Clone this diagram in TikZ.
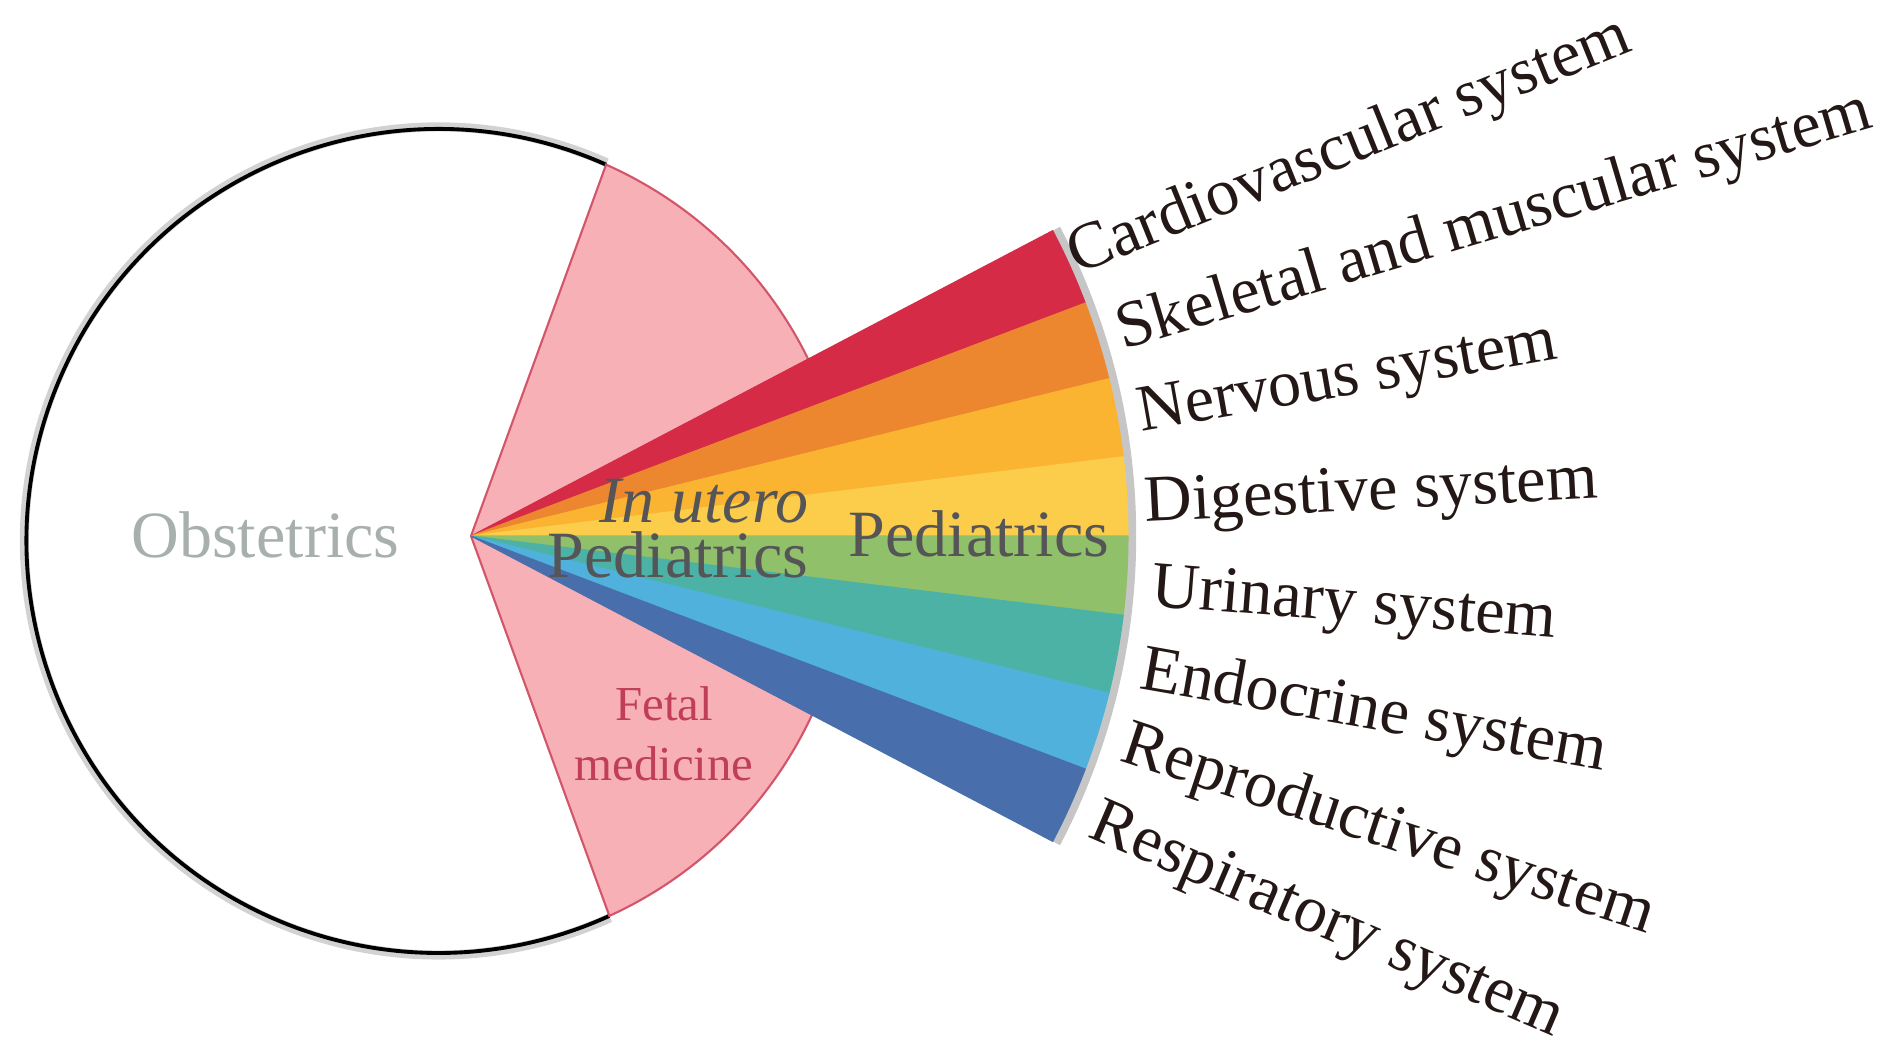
\documentclass[tikz,border=0pt]{standalone}
\usepackage{fontspec}
\setmainfont{Liberation Serif}
\definecolor{cvred}{RGB}{214,43,70}
\definecolor{skorange}{RGB}{236,135,48}
\definecolor{nvamber}{RGB}{250,180,50}
\definecolor{dgyellow}{RGB}{252,205,75}
\definecolor{urgreen}{RGB}{144,192,105}
\definecolor{enteal}{RGB}{75,178,165}
\definecolor{rpcyan}{RGB}{80,178,220}
\definecolor{rsblue}{RGB}{72,110,172}
\definecolor{fetalpink}{RGB}{247,176,182}
\definecolor{fetaledge}{RGB}{210,85,105}
\definecolor{fetalink}{RGB}{192,62,88}
\definecolor{obsgray}{RGB}{168,176,174}
\definecolor{pedgray}{RGB}{85,85,88}
\definecolor{labelink}{RGB}{35,24,21}
\tikzset{
  syslabel/.style={anchor=base west, inner sep=0pt, text=labelink, font=\fontsize{18.8}{22}\selectfont},
  bigtext/.style={anchor=base, inner sep=0pt, font=\fontsize{18.8}{22}\selectfont},
  fetaltext/.style={anchor=base, inner sep=0pt, text=fetalink, font=\fontsize{13.9}{16}\selectfont},
  rim/.style={draw=black, line width=1.1pt},
  fetal/.style={fill=fetalpink, draw=fetaledge, line width=0.6pt}
}
\begin{document}
\begin{tikzpicture}
  \useasboundingbox (0,0) rectangle (18.9,10.58);
  \coordinate (O) at (4.385,5.17);
  \coordinate (apex) at (4.71,5.22);

  % obstetrics circle and fetal medicine wedge
  \draw[gray!35, line width=2.6pt] ([shift={(66:4.14)}]O) arc[start angle=66, end angle=294.5, radius=4.14];
  \draw[rim] ([shift={(66:4.12)}]O) arc[start angle=66, end angle=294.5, radius=4.12];
  \draw[fetal] (apex) -- ([shift={(66:4.12)}]O) arc[start angle=66, end angle=-65.5, radius=4.12] -- cycle;

  % pediatrics fan
  \draw[gray!45, line width=3pt] ([shift={(27.7:6.6)}]apex) arc[start angle=27.7, end angle=-27.7, radius=6.6];
  \foreach \c [count=\i] in {cvred,skorange,nvamber,dgyellow,urgreen,enteal,rpcyan,rsblue}
    \filldraw[fill=\c, draw=\c, line width=0.3pt] (apex) -- ++({27.7-(\i-1)*6.925}:6.57)
      arc[start angle={27.7-(\i-1)*6.925}, delta angle=-6.925, radius=6.57] -- cycle;

  \node[bigtext, text=obsgray] (obs) at (2.655,5.01) {Obstetrics};
  \node[bigtext, text=pedgray] (utero) at (7.04,5.36) {\itshape In utero};
  \node[bigtext, text=pedgray] (pedin) at (6.78,4.81) {Pediatrics};
  \node[bigtext, text=pedgray] (pedout) at (9.79,5.02) {Pediatrics};
  \node[fetaltext] (fetal) at (6.64,3.38) {Fetal};
  \node[fetaltext] (medicine) at (6.64,2.78) {medicine};

  % organ systems
  \node[syslabel, rotate=22] (cardio) at (10.77,7.83) {Cardiovascular system};
  \node[syslabel, rotate=16.5] (skeletal) at (11.23,7.08) {Skeletal and muscular system};
  \node[syslabel, rotate=10] (nervous) at (11.41,6.26) {Nervous system};
  \node[syslabel, rotate=3] (digestive) at (11.45,5.36) {Digestive system};
  \node[syslabel, rotate=-4.5] (urinary) at (11.50,4.52) {Urinary system};
  \node[syslabel, rotate=-10] (endocrine) at (11.38,3.70) {Endocrine system};
  \node[syslabel, rotate=-18.2] (reproductive) at (11.18,2.98) {Reproductive system};
  \node[syslabel, rotate=-23.2] (respiratory) at (10.86,2.22) {Respiratory system};
\end{tikzpicture}
\end{document}
